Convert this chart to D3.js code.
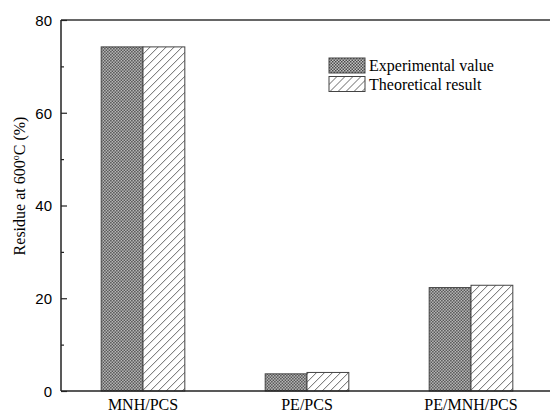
<!DOCTYPE html>
<html>
<head>
<meta charset="utf-8">
<style>
body { margin: 0; background: #fff; }
svg { display: block; }
.ytick text { font: 15px "Liberation Sans", Arial, sans-serif; fill: #000; }
.cat { font: 16px "Liberation Serif", "Times New Roman", serif; fill: #000; }
.leg { font: 16px "Liberation Serif", "Times New Roman", serif; fill: #000; }
</style>
</head>
<body>
<svg width="550" height="412"></svg>
<script src="https://cdn.jsdelivr.net/npm/d3@7"></script>
<script>

// data
var categories = ["MNH/PCS", "PE/PCS", "PE/MNH/PCS"];
var seriesNames = ["Experimental value", "Theoretical result"];
var experimental = [74.2, 3.7, 22.3];
var theoretical = [74.2, 4.0, 22.8];
var yTicks = [0, 20, 40, 60, 80];
var yMinorTicks = [10, 30, 50, 70];

var svg = d3.select("svg");

// plot box (named so it does not clash with window.top)
var plotL = 61, plotR = 553, plotT = 20, plotB = 391;

// patterns
var defs = svg.append("defs");
var chk = defs.append("pattern")
    .attr("id", "checker")
    .attr("patternUnits", "userSpaceOnUse")
    .attr("width", 3).attr("height", 3);
chk.append("rect").attr("width", 3).attr("height", 3).attr("fill", "#c4c4c4");
chk.append("rect").attr("width", 1.5).attr("height", 1.5).attr("fill", "#4a4a4a");
chk.append("rect").attr("x", 1.5).attr("y", 1.5).attr("width", 1.5).attr("height", 1.5).attr("fill", "#4a4a4a");

var hatch = defs.append("pattern")
    .attr("id", "hatch")
    .attr("patternUnits", "userSpaceOnUse")
    .attr("width", 8).attr("height", 8);
hatch.append("rect").attr("width", 8).attr("height", 8).attr("fill", "#fff");
hatch.append("path")
    .attr("d", "M0,8 L8,0 M-2,2 L2,-2 M6,10 L10,6")
    .attr("stroke", "#555")
    .attr("stroke-width", 0.9);

var fills = ["url(#checker)", "url(#hatch)"];

// scales
var x0 = d3.scaleBand()
    .domain(categories)
    .range([plotL, plotR])
    .paddingInner(0.49)
    .paddingOuter(0.245);

var x1 = d3.scaleBand()
    .domain(seriesNames)
    .range([0, x0.bandwidth()]);

var y = d3.scaleLinear()
    .domain([0, 80])
    .range([plotB, plotT]);

// bars
var rows = categories.map(function(c, i) {
  return {cat: c, vals: [experimental[i], theoretical[i]]};
});

var groups = svg.selectAll(".grp")
  .data(rows)
  .enter().append("g")
    .attr("class", "grp")
    .attr("transform", function(d) { return "translate(" + x0(d.cat) + ",0)"; });

groups.selectAll("rect")
  .data(function(d) { return d.vals.map(function(v, j) { return {s: seriesNames[j], v: v, j: j}; }); })
  .enter().append("rect")
    .attr("x", function(d) { return x1(d.s); })
    .attr("y", function(d) { return y(d.v); })
    .attr("width", x1.bandwidth())
    .attr("height", function(d) { return y(0) - y(d.v); })
    .attr("fill", function(d) { return fills[d.j]; })
    .attr("stroke", "#444")
    .attr("stroke-width", 1);

// frame: top and bottom lines run off the right edge
svg.append("line")
    .attr("x1", plotL).attr("x2", plotR)
    .attr("y1", plotT).attr("y2", plotT)
    .attr("stroke", "#333").attr("stroke-width", 1.5);

// y axis, ticks inward
var yAxis = d3.axisRight(y)
    .tickValues(yTicks)
    .tickSize(6)
    .tickFormat(d3.format("d"));
var gy = svg.append("g")
    .attr("class", "ytick")
    .attr("transform", "translate(" + plotL + ",0)")
    .call(yAxis);
gy.select(".domain").remove();
gy.selectAll("line").attr("stroke", "#222").attr("stroke-width", 1.2);
gy.selectAll("text")
    .attr("x", -9)
    .attr("dy", "0.35em")
    .attr("text-anchor", "end");

var gminor = svg.append("g")
    .attr("transform", "translate(" + plotL + ",0)")
    .call(d3.axisRight(y).tickValues(yMinorTicks).tickSize(3).tickFormat(""));
gminor.select(".domain").remove();
gminor.selectAll("line").attr("stroke", "#222").attr("stroke-width", 1.2);

svg.append("line")
    .attr("x1", plotL).attr("x2", plotL)
    .attr("y1", plotT).attr("y2", plotB)
    .attr("stroke", "#222").attr("stroke-width", 1.5);
svg.append("line")
    .attr("x1", plotL).attr("x2", plotR)
    .attr("y1", plotB).attr("y2", plotB)
    .attr("stroke", "#222").attr("stroke-width", 1.5);

// category labels
svg.selectAll(".catlab")
  .data(categories)
  .enter().append("text")
    .attr("class", "cat catlab")
    .attr("x", function(d) { return x0(d) + x0.bandwidth() / 2; })
    .attr("y", 410)
    .attr("text-anchor", "middle")
    .text(function(d) { return d; });

// y label
var yl = svg.append("text")
    .attr("class", "cat")
    .attr("transform", "translate(25,186) rotate(-90)")
    .attr("text-anchor", "middle");
yl.append("tspan").text("Residue at 600");
yl.append("tspan").attr("font-size", "10px").attr("dy", "-6").text("o");
yl.append("tspan").attr("dy", "6").text("C (%)");

// legend
var leg = svg.selectAll(".legitem")
  .data(seriesNames)
  .enter().append("g")
    .attr("class", "legitem")
    .attr("transform", function(d, i) { return "translate(329," + (58 + i * 18.5) + ")"; });
leg.append("rect")
    .attr("width", 36).attr("height", 15)
    .attr("fill", function(d, i) { return fills[i]; })
    .attr("stroke", "#444");
leg.append("text")
    .attr("class", "leg")
    .attr("x", 40).attr("y", 13)
    .text(function(d) { return d; });

</script>
</body>
</html>
